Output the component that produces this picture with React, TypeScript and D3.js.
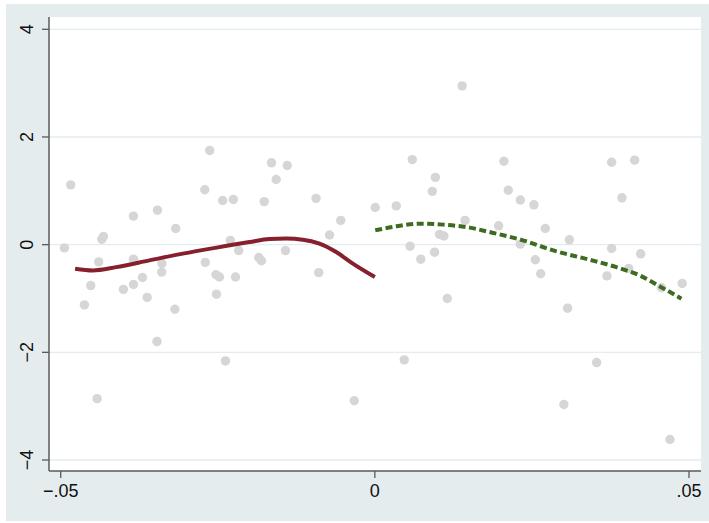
import React from "react";
import * as d3 from "d3";

// Scatter observations (running variable, outcome)
const pointX = [
  -0.04941, -0.04841, -0.04623, -0.04522, -0.0442, -0.04395, -0.04347, -0.0432, -0.04002, -0.03842,
  -0.03842, -0.03842, -0.03699, -0.03624, -0.03468, -0.0346, -0.03389, -0.03392, -0.03182, -0.03169,
  -0.02707, -0.02699, -0.02629, -0.02529, -0.02473, -0.02521, -0.02422, -0.02377, -0.02301, -0.02253,
  -0.02218, -0.02167, -0.01847, -0.01804, -0.01761, -0.01645, -0.0157, -0.01422, -0.01395, -0.00936,
  -0.00893, -0.00721, -0.00543, -0.00328, 0.00006, 0.00341, 0.00468, 0.00561, 0.00596, 0.00731,
  0.00914, 0.00951, 0.00963, 0.0103, 0.01099, 0.01153, 0.01389, 0.01436, 0.0197, 0.02054,
  0.02124, 0.02315, 0.02315, 0.02532, 0.02554, 0.02639, 0.02713, 0.03008, 0.03068, 0.03096,
  0.0353, 0.03694, 0.03769, 0.03769, 0.03933, 0.0404, 0.04135, 0.04231, 0.04561, 0.04697,
  0.04892,
];
const pointY = [
  -0.06, 1.11, -1.12, -0.76, -2.86, -0.32, 0.1, 0.15, -0.83, 0.53,
  -0.27, -0.74, -0.61, -0.98, -1.8, 0.64, -0.35, -0.51, -1.2, 0.3,
  1.02, -0.33, 1.75, -0.56, -0.6, -0.92, 0.82, -2.16, 0.08, 0.84,
  -0.6, -0.11, -0.24, -0.3, 0.8, 1.52, 1.21, -0.11, 1.47, 0.86,
  -0.52, 0.18, 0.45, -2.9, 0.69, 0.72, -2.14, -0.03, 1.58, -0.27,
  0.99, -0.14, 1.25, 0.19, 0.16, -1.0, 2.95, 0.45, 0.35, 1.55,
  1.01, 0.83, 0.01, 0.74, -0.28, -0.54, 0.3, -2.97, -1.18, 0.09,
  -2.19, -0.58, 1.53, -0.07, 0.87, -0.44, 1.57, -0.17, -0.8, -3.62,
  -0.72,
];

// Local fit below the cutoff
const leftFitX = [-0.04771, -0.0449, -0.04118, -0.03588, -0.03057, -0.02525, -0.01995, -0.01677, -0.01411, -0.01146, -0.00881, -0.00615, -0.0035, 0];
const leftFitY = [-0.446, -0.478, -0.417, -0.292, -0.167, -0.056, 0.048, 0.104, 0.112, 0.093, 0.019, -0.138, -0.353, -0.602];

// Local fit above the cutoff
const rightFitX = [0.00006, 0.00341, 0.00712, 0.01083, 0.01508, 0.01826, 0.02357, 0.02889, 0.03419, 0.03844, 0.04215, 0.04586, 0.04879];
const rightFitY = [0.266, 0.34, 0.39, 0.372, 0.316, 0.234, 0.08, -0.125, -0.28, -0.418, -0.572, -0.808, -1.004];

const xTicks = [-0.05, 0, 0.05];
const xTickLabels = ["\u2212.05", "0", ".05"];
const yTicks = [-4, -2, 0, 2, 4];
const yTickLabels = ["\u22124", "\u22122", "0", "2", "4"];

const W = 709;
const H = 523;
const plot = { left: 49, right: 701, top: 17, bottom: 471 };

export default function App() {
  const x = d3.scaleLinear().domain([-0.05, 0.05]).range([60.7, 689]);
  const y = d3.scaleLinear().domain([-4, 4]).range([460, 29.3]);

  const line = d3
    .line<[number, number]>()
    .x((d) => x(d[0]))
    .y((d) => y(d[1]))
    .curve(d3.curveMonotoneX);

  const leftPath = line(leftFitX.map((v, i) => [v, leftFitY[i]]) as [number, number][]) || "";
  const rightPath = line(rightFitX.map((v, i) => [v, rightFitY[i]]) as [number, number][]) || "";

  const font = "'Liberation Sans', Arial, Helvetica, sans-serif";

  return (
    <svg
      width={W}
      height={H}
      style={{ position: "absolute", left: 0, top: 0, background: "#ffffff" }}
    >
      <rect x={6} y={4} width={W - 6} height={517} fill="#E4ECEE" />
      <rect
        x={plot.left}
        y={plot.top}
        width={plot.right - plot.left}
        height={plot.bottom - plot.top}
        fill="#ffffff"
      />
      {/* horizontal grid lines */}
      {yTicks.map((t) => (
        <line
          key={"g" + t}
          x1={plot.left}
          x2={plot.right}
          y1={y(t)}
          y2={y(t)}
          stroke="#E3ECEF"
          strokeWidth={1.3}
        />
      ))}
      {/* scatter */}
      {pointX.map((v, i) => (
        <circle key={"p" + i} cx={x(v)} cy={y(pointY[i])} r={4.7} fill="#D6D6D6" />
      ))}
      {/* fitted curves */}
      <path d={leftPath} fill="none" stroke="#85202C" strokeWidth={4} strokeLinejoin="round" />
      <path
        d={rightPath}
        fill="none"
        stroke="#3F6B20"
        strokeWidth={4}
        strokeDasharray="7 3.5"
      />
      {/* axes */}
      <line x1={plot.left} x2={plot.left} y1={plot.top} y2={plot.bottom} stroke="#5A5A5A" strokeWidth={1.5} />
      <line x1={plot.left} x2={plot.right} y1={plot.bottom} y2={plot.bottom} stroke="#5A5A5A" strokeWidth={1.5} />
      {yTicks.map((t, i) => (
        <g key={"y" + t}>
          <line x1={plot.left - 7} x2={plot.left} y1={y(t)} y2={y(t)} stroke="#5A5A5A" strokeWidth={1.3} />
          <text
            transform={`translate(33,${y(t)}) rotate(-90)`}
            textAnchor="middle"
            fontFamily={font}
            fontSize={18}
            fill="#111"
          >
            {yTickLabels[i]}
          </text>
        </g>
      ))}
      {xTicks.map((t, i) => (
        <g key={"x" + t}>
          <line x1={x(t)} x2={x(t)} y1={plot.bottom} y2={plot.bottom + 7} stroke="#5A5A5A" strokeWidth={1.3} />
          <text
            x={x(t)}
            y={496.5}
            textAnchor="middle"
            fontFamily={font}
            fontSize={18}
            fill="#111"
          >
            {xTickLabels[i]}
          </text>
        </g>
      ))}
    </svg>
  );
}
